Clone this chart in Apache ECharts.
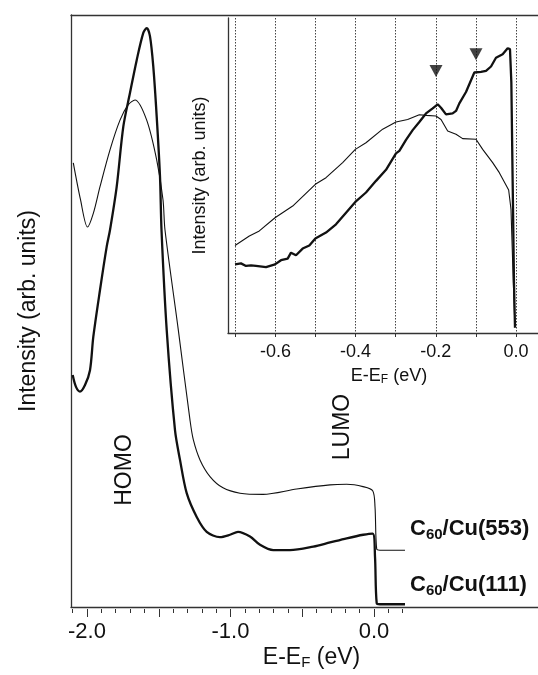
<!DOCTYPE html>
<html>
<head>
<meta charset="utf-8">
<script src="https://cdn.jsdelivr.net/npm/echarts@6/dist/echarts.min.js"></script>
<style>
  html, body { margin: 0; padding: 0; background: #fff; }
  #chart { width: 538px; height: 675px; }
</style>
</head>
<body>
<div id="chart"></div>
<script>
// main spectra, [E-EF (eV), intensity (arb.)]
var cu553 = [
  [-2.0955, 75.1], [-2.0453, 68.9], [-1.9965, 64.3], [-1.956, 66.6], [-1.9094, 71.1],
  [-1.8397, 77.3], [-1.770, 82.3], [-1.7122, 84.9], [-1.6655, 85.7], [-1.584, 82.3],
  [-1.5143, 75.6], [-1.4704, 68.9], [-1.4565, 63.8], [-1.3638, 47.0], [-1.2822, 31.8],
  [-1.2592, 28.5], [-1.2125, 25.1], [-1.1429, 22.3], [-1.0523, 20.4], [-0.9338, 19.5],
  [-0.7735, 19.3], [-0.5387, 20.2], [-0.3066, 20.9], [-0.1902, 21.0], [-0.0767, 20.6],
  [-0.0091, 19.9], [0.007, 17.2], [0.0188, 10.1], [0.0418, 9.9], [0.216, 9.9]
];
var cu111 = [
  [-2.0997, 39.4], [-2.0767, 37.4], [-2.0488, 36.6], [-2.0139, 37.7], [-1.9791, 40.2],
  [-1.9561, 45.8], [-1.9094, 53.7], [-1.8627, 61.0], [-1.8397, 63.8], [-1.793, 71.1],
  [-1.747, 81.2], [-1.7003, 86.9], [-1.6537, 92.4], [-1.6077, 97.0], [-1.584, 97.8],
  [-1.561, 96.4], [-1.538, 91.3], [-1.5143, 82.9], [-1.4913, 72.8], [-1.4808, 63.8],
  [-1.4446, 47.0], [-1.3868, 30.1], [-1.3519, 25.1], [-1.3052, 19.5], [-1.2355, 15.5],
  [-1.1659, 13.0], [-1.0732, 12.1], [-1.0035, 12.5], [-0.9477, 13.0], [-0.8641, 12.2],
  [-0.7944, 10.8], [-0.7017, 9.9], [-0.5854, 9.9], [-0.423, 10.5], [-0.3066, 11.2],
  [-0.1902, 11.9], [-0.0746, 12.5], [-0.0091, 12.7], [0.007, 8.8], [0.0188, 1.0],
  [0.0418, 0.8], [0.216, 0.8]
];

// inset, close to EF
var insetCu553 = [
  [-0.7007, 27.8], [-0.665, 30.8], [-0.6401, 32.4], [-0.601, 36.6], [-0.5569, 40.3],
  [-0.5004, 47.2], [-0.4738, 49.3], [-0.4323, 54.1], [-0.4007, 58.3], [-0.3741, 60.4],
  [-0.3325, 64.7], [-0.2993, 67.0], [-0.2702, 67.8], [-0.2411, 69.3], [-0.2244, 69.1],
  [-0.1995, 68.9], [-0.187, 67.8], [-0.1704, 64.1], [-0.1496, 63.1], [-0.133, 61.7],
  [-0.0998, 61.5], [-0.0831, 58.3], [-0.0582, 54.1], [-0.0416, 50.9], [-0.0183, 45.4],
  [-0.0125, 39.3], [-0.0067, 16.0], [-0.0025, 1.7]
];
var insetCu111 = [
  [-0.7007, 21.8], [-0.6858, 22.1], [-0.6733, 21.3], [-0.6608, 21.5], [-0.6484, 21.3],
  [-0.6234, 20.9], [-0.601, 21.8], [-0.586, 23.1], [-0.5694, 23.6], [-0.5611, 25.5],
  [-0.5486, 24.7], [-0.532, 26.8], [-0.5154, 27.8], [-0.5004, 30.0], [-0.4738, 31.9],
  [-0.4489, 34.5], [-0.4239, 38.2], [-0.4007, 41.6], [-0.3741, 44.6], [-0.3491, 48.3],
  [-0.3242, 51.8], [-0.2993, 57.0], [-0.2909, 57.8], [-0.2743, 61.3], [-0.2577, 64.4],
  [-0.2411, 67.0], [-0.2244, 69.7], [-0.2078, 71.3], [-0.1953, 72.6], [-0.187, 71.5],
  [-0.1746, 69.4], [-0.158, 69.7], [-0.1496, 70.5], [-0.1413, 72.9], [-0.1247, 76.5],
  [-0.1039, 82.7], [-0.0873, 82.9], [-0.0748, 83.2], [-0.0623, 84.6], [-0.0499, 87.4],
  [-0.0333, 88.5], [-0.0208, 90.4], [-0.015, 90.1], [-0.0116, 79.5], [-0.0083, 47.7],
  [-0.005, 16.0], [-0.0025, 1.7]
];
var arrowMarks = [[-0.1995, 83.2], [-0.0998, 88.5]];

// axis ranges / tick steps
var mainRange = [-2.1, 0.2], mainStep = 0.1;
var mainMajorRange = [-2.0, 0.0], mainMajorStep = 0.5;
var insetRange = [-0.7, 0.0], insetStep = 0.1;

var font = '"Liberation Sans", Arial, Helvetica, sans-serif';
var ink = '#111';
var frame = { show: true, onZero: false, lineStyle: { color: '#333', width: 1.3 } };
var tickStyle = { color: '#333', width: 1 };
var off = { show: false };

function onStep(v, step) {
  var k = v / step;
  return Math.abs(k - Math.round(k)) < 1e-6;
}

var chart = echarts.init(document.getElementById('chart'), null, { renderer: 'canvas' });

var option = {
  animation: false,
  backgroundColor: '#fff',
  textStyle: { fontFamily: font, color: ink },
  grid: [
    { left: 72.65, right: 135.3, top: 15, bottom: 66 },   // 0 main data
    { left: 87, right: 164, top: 15, bottom: 66 },        // 1 main major ticks
    { left: 71, right: 0, top: 15, bottom: 66 },          // 2 main frame
    { left: 235.3, right: 22, top: 18, bottom: 342 },     // 3 inset data
    { left: 228, right: 0, top: 18, bottom: 342 }         // 4 inset frame
  ],
  xAxis: [
    {
      gridIndex: 0, type: 'value', position: 'bottom',
      min: mainRange[0], max: mainRange[1], interval: mainStep,
      axisLine: off,
      axisTick: { show: true, length: 4, lineStyle: tickStyle },
      axisLabel: {
        fontSize: 22, color: ink, margin: 12, fontFamily: font, showMinLabel: true, showMaxLabel: true,
        formatter: function (v) { return onStep(v, 1) ? v.toFixed(1) : ''; }
      },
      splitLine: off
    },
    {
      gridIndex: 1, type: 'value', position: 'bottom',
      min: mainMajorRange[0], max: mainMajorRange[1], interval: mainMajorStep,
      axisLine: off,
      axisTick: { show: true, length: 8, lineStyle: tickStyle },
      axisLabel: off, splitLine: off
    },
    {
      gridIndex: 2, type: 'value', position: 'bottom', min: 0, max: 1,
      axisLine: frame, axisTick: off, axisLabel: off, splitLine: off,
      name: 'E-E{s|F} (eV)', nameLocation: 'middle', nameGap: 38,
      nameTextStyle: {
        fontSize: 23, color: ink, fontFamily: font, padding: [0, 0, 0, 14],
        rich: { s: { fontSize: 15, color: ink, fontFamily: font, padding: [10, 0, 0, 0] } }
      }
    },
    {
      gridIndex: 2, type: 'value', position: 'top', min: 0, max: 1,
      axisLine: frame, axisTick: off, axisLabel: off, splitLine: off
    },
    {
      gridIndex: 3, type: 'value', position: 'bottom',
      min: insetRange[0], max: insetRange[1], interval: insetStep,
      axisLine: off,
      axisTick: { show: true, length: 4, lineStyle: tickStyle },
      axisLabel: {
        fontSize: 18, color: ink, margin: 10, fontFamily: font, showMinLabel: true, showMaxLabel: true,
        formatter: function (v) { return onStep(v, 0.2) ? v.toFixed(1) : ''; }
      },
      splitLine: { show: true, lineStyle: { color: '#444', type: [1.5, 1.5], width: 1 } }
    },
    {
      gridIndex: 4, type: 'value', position: 'bottom', min: 0, max: 1,
      axisLine: frame, axisTick: off, axisLabel: off, splitLine: off,
      name: 'E-E{s|F} (eV)', nameLocation: 'middle', nameGap: 33,
      nameTextStyle: {
        fontSize: 18, color: ink, fontFamily: font, padding: [0, 0, 0, 12],
        rich: { s: { fontSize: 12, color: ink, fontFamily: font, padding: [8, 0, 0, 0] } }
      }
    }
  ],
  yAxis: [
    { gridIndex: 0, type: 'value', min: 0, max: 100, axisLine: off, axisTick: off, axisLabel: off, splitLine: off },
    { gridIndex: 1, type: 'value', min: 0, max: 100, axisLine: off, axisTick: off, axisLabel: off, splitLine: off },
    {
      gridIndex: 2, type: 'value', min: 0, max: 1,
      axisLine: frame, axisTick: off, axisLabel: off, splitLine: off,
      name: 'Intensity (arb. units)', nameLocation: 'middle', nameGap: 31,
      nameTextStyle: { fontSize: 23, color: ink, fontFamily: font }
    },
    { gridIndex: 3, type: 'value', min: 0, max: 100, axisLine: off, axisTick: off, axisLabel: off, splitLine: off },
    {
      gridIndex: 4, type: 'value', min: 0, max: 1,
      axisLine: frame, axisTick: off, axisLabel: off, splitLine: off,
      name: 'Intensity (arb. units)', nameLocation: 'middle', nameGap: 19,
      nameTextStyle: { fontSize: 18, color: ink, fontFamily: font }
    }
  ],
  series: [
    {
      name: 'C60/Cu(553)', type: 'line', xAxisIndex: 0, yAxisIndex: 0, data: cu553,
      showSymbol: false, smooth: 0.3, clip: false, lineStyle: { color: ink, width: 1.1 }
    },
    {
      name: 'C60/Cu(111)', type: 'line', xAxisIndex: 0, yAxisIndex: 0, data: cu111,
      showSymbol: false, smooth: 0.3, clip: false, lineStyle: { color: ink, width: 2.3 }
    },
    {
      name: 'inset C60/Cu(553)', type: 'line', xAxisIndex: 4, yAxisIndex: 3, data: insetCu553,
      showSymbol: false, clip: false, lineStyle: { color: ink, width: 1.1 }
    },
    {
      name: 'inset C60/Cu(111)', type: 'line', xAxisIndex: 4, yAxisIndex: 3, data: insetCu111,
      showSymbol: false, clip: false, lineStyle: { color: ink, width: 2.3 }
    },
    {
      name: 'arrows', type: 'scatter', xAxisIndex: 4, yAxisIndex: 3, data: arrowMarks,
      symbol: 'triangle', symbolRotate: 180, symbolSize: [13, 12],
      itemStyle: { color: ink }
    }
  ],
  graphic: [
    {
      type: 'text', x: 125, y: 470, rotation: Math.PI / 2,
      style: { text: 'HOMO', fontSize: 23, fontFamily: font, fill: ink, align: 'center', verticalAlign: 'middle' }
    },
    {
      type: 'text', x: 343, y: 427, rotation: Math.PI / 2,
      style: { text: 'LUMO', fontSize: 23, fontFamily: font, fill: ink, align: 'center', verticalAlign: 'middle' }
    },
    {
      type: 'text', x: 410, y: 529,
      style: {
        text: '{b|C}{s|60}{b|/Cu(553)}', verticalAlign: 'middle', align: 'left',
        rich: {
          b: { fontSize: 22, fontWeight: 'bold', fontFamily: font, fill: ink, color: ink },
          s: { fontSize: 15, fontWeight: 'bold', fontFamily: font, fill: ink, color: ink, padding: [11, 0, 0, 0] }
        }
      }
    },
    {
      type: 'text', x: 410, y: 585,
      style: {
        text: '{b|C}{s|60}{b|/Cu(111)}', verticalAlign: 'middle', align: 'left',
        rich: {
          b: { fontSize: 22, fontWeight: 'bold', fontFamily: font, fill: ink, color: ink },
          s: { fontSize: 15, fontWeight: 'bold', fontFamily: font, fill: ink, color: ink, padding: [11, 0, 0, 0] }
        }
      }
    }
  ]
};

chart.setOption(option);
window.addEventListener('resize', function () { chart.resize(); });
</script>
</body>
</html>
